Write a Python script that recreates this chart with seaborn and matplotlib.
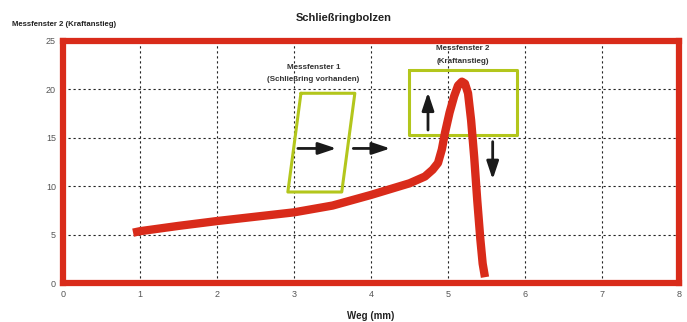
import matplotlib
matplotlib.use("Agg")
import matplotlib.pyplot as plt
import seaborn as sns
import pandas as pd
import numpy as np

# Data
weg_mm = [0.91, 1.0, 1.5, 2.0, 2.5, 3.0, 3.5, 4.0, 4.5, 4.7, 4.8, 4.87, 4.92, 4.96, 5.02, 5.08, 5.13, 5.18, 5.22, 5.26, 5.30, 5.34, 5.38, 5.42, 5.45, 5.48]
kraft = [5.2, 5.35, 5.9, 6.4, 6.85, 7.3, 8.0, 9.1, 10.3, 11.0, 11.7, 12.4, 13.8, 15.5, 17.6, 19.3, 20.4, 20.8, 20.6, 19.6, 16.8, 13.0, 8.5, 4.5, 2.0, 0.6]

x_ticks = [0, 1, 2, 3, 4, 5, 6, 7, 8]
y_ticks = [0, 5, 10, 15, 20, 25]

fenster1_x = [3.09, 3.79, 3.62, 2.92, 3.09]
fenster1_y = [19.6, 19.6, 9.4, 9.4, 19.6]
fenster2_x = [4.49, 5.90, 5.90, 4.49, 4.49]
fenster2_y = [22.0, 22.0, 15.3, 15.3, 22.0]

title = "Schließringbolzen"
y_label = "Messfenster 2 (Kraftanstieg)"
x_label = "Weg (mm)"

sns.set_theme(style="white")
plt.rcParams['font.family'] = ['Liberation Sans Narrow', 'Liberation Sans', 'DejaVu Sans']

RED = "#d92b1a"
GREEN = "#b3c61c"

fig = plt.figure(figsize=(6.87, 3.22), dpi=100)
ax = fig.add_axes([0.0917, 0.1211, 0.8967, 0.7516])

df = pd.DataFrame({"weg": weg_mm, "kraft": kraft})
sns.lineplot(data=df, x="weg", y="kraft", ax=ax, color=RED, linewidth=6,
             sort=False, solid_capstyle="butt", solid_joinstyle="round", zorder=4)

ax.plot(fenster1_x, fenster1_y, color=GREEN, lw=2.2, zorder=3)
ax.plot(fenster2_x, fenster2_y, color=GREEN, lw=2.2, zorder=3)

arrow_kw = dict(arrowstyle="-|>,head_length=0.9,head_width=0.3", color="#1a1a1a", lw=2, shrinkA=0, shrinkB=0)
ax.annotate("", xy=(3.55, 13.9), xytext=(3.05, 13.9), arrowprops=arrow_kw, zorder=5)
ax.annotate("", xy=(4.25, 13.9), xytext=(3.77, 13.9), arrowprops=arrow_kw, zorder=5)
ax.annotate("", xy=(4.74, 19.7), xytext=(4.74, 15.8), arrowprops=arrow_kw, zorder=5)
ax.annotate("", xy=(5.58, 10.7), xytext=(5.58, 14.6), arrowprops=arrow_kw, zorder=5)

fs = 5.8
ax.text(3.25, 22.3, "Messfenster 1", ha="center", va="center", fontsize=fs, fontweight="bold", color="#333333")
ax.text(3.25, 21.0, "(Schließring vorhanden)", ha="center", va="center", fontsize=fs, fontweight="bold", color="#333333")
ax.text(5.19, 24.2, "Messfenster 2", ha="center", va="center", fontsize=fs, fontweight="bold", color="#333333")
ax.text(5.19, 22.9, "(Kraftanstieg)", ha="center", va="center", fontsize=fs, fontweight="bold", color="#333333")

ax.set_xlim(0, 8)
ax.set_ylim(0, 25)
ax.set_xticks(x_ticks)
ax.set_yticks(y_ticks)
ax.set_xticklabels([str(t) for t in x_ticks])
ax.set_yticklabels([str(t) for t in y_ticks])
ax.tick_params(axis="both", labelsize=6.5, labelcolor="#555555", length=2, width=1, pad=3,
               direction="out", color="#222222")

ax.grid(True, linestyle=(0, (2, 2.5)), color="#222222", linewidth=0.8)
ax.set_axisbelow(True)

for s in ax.spines.values():
    s.set_visible(True)
    s.set_color(RED)
    s.set_linewidth(4.5)
    s.set_zorder(6)

ax.set_xlabel(x_label, fontsize=7, fontweight="bold", color="#222222", labelpad=9)
ax.set_ylabel("")
fig.text(0.5, 0.945, title, ha="center", va="center", fontsize=8, fontweight="bold", color="#222222")
fig.text(0.017, 0.925, y_label, ha="left", va="center", fontsize=5.6, fontweight="bold", color="#222222")

fig.savefig("out.png", dpi=100)
